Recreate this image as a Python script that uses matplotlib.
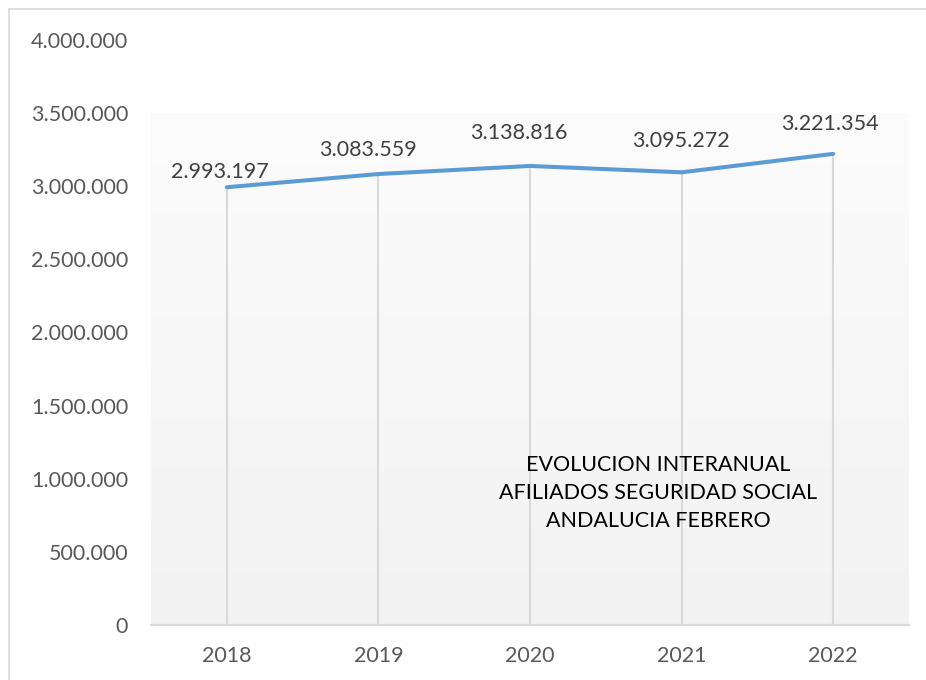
import matplotlib
matplotlib.use("Agg")
import matplotlib.pyplot as plt
import numpy as np
from matplotlib.patches import Rectangle

years = ["2018", "2019", "2020", "2021", "2022"]
afiliados = [2993197, 3083559, 3138816, 3095272, 3221354]
yticks = [0, 500000, 1000000, 1500000, 2000000, 2500000, 3000000, 3500000, 4000000]
title_lines = ["EVOLUCION INTERANUAL", "AFILIADOS SEGURIDAD SOCIAL", "ANDALUCIA FEBRERO"]

label_offsets = [(-7, 15), (-10, 24), (-11, 33), (-1, 31), (-3, 30)]

def fmt(v):
    return f"{v:,}".replace(",", ".")

plt.rcParams['font.family'] = ['Lato', 'DejaVu Sans']

fig = plt.figure(figsize=(9.26, 6.8), dpi=100)
fig.patch.set_facecolor("white")
# figure border
fig.add_artist(Rectangle((9/926, -0.1), 1.2, 1 - 9/680 + 0.1, transform=fig.transFigure,
                         fill=False, edgecolor="#D9D9D9", linewidth=1.2))

ax = fig.add_axes([151/926, 1 - 625/680, (909 - 151)/926, (625 - 40)/680])
ax.set_facecolor("none")

# gradient background
grad = np.linspace(0.988, 0.949, 256).reshape(-1, 1)
rgb = np.dstack([grad, grad, grad])
ax.imshow(rgb, extent=[0, len(years), 0, 3500000], aspect="auto", zorder=0, origin="upper")
ax.set_xlim(0, len(years))
ax.set_ylim(0, 4000000)

x = np.arange(len(years)) + 0.5
ax.vlines(x, 0, afiliados, colors="#D9D9D9", linewidth=1.5, zorder=1)
ax.plot(x, afiliados, color="#5B9BD5", linewidth=2.9, solid_capstyle="round", zorder=3)

for xi, v, (dx, dy) in zip(x, afiliados, label_offsets):
    ax.annotate(fmt(v), (xi, v), xytext=(dx * 0.72, dy * 0.72), textcoords="offset points",
                ha="center", va="center", fontsize=15.5, color="#404040")

ax.set_xticks(x)
ax.set_xticklabels(years)
ax.set_yticks(yticks)
ax.set_yticklabels([fmt(t) for t in yticks])
ax.tick_params(axis="both", length=0, labelsize=15.5, labelcolor="#595959")
ax.tick_params(axis="y", pad=16.5)
ax.tick_params(axis="x", pad=15)
for s in ["top", "right", "left"]:
    ax.spines[s].set_visible(False)
ax.spines["bottom"].set_color("#D9D9D9")
ax.spines["bottom"].set_linewidth(1.5)

ax.text(658/926, 1 - 493/680, "\n".join(title_lines), transform=fig.transFigure,
        ha="center", va="center", fontsize=15.5, color="black", linespacing=1.5)

fig.savefig("out.png", dpi=100)
